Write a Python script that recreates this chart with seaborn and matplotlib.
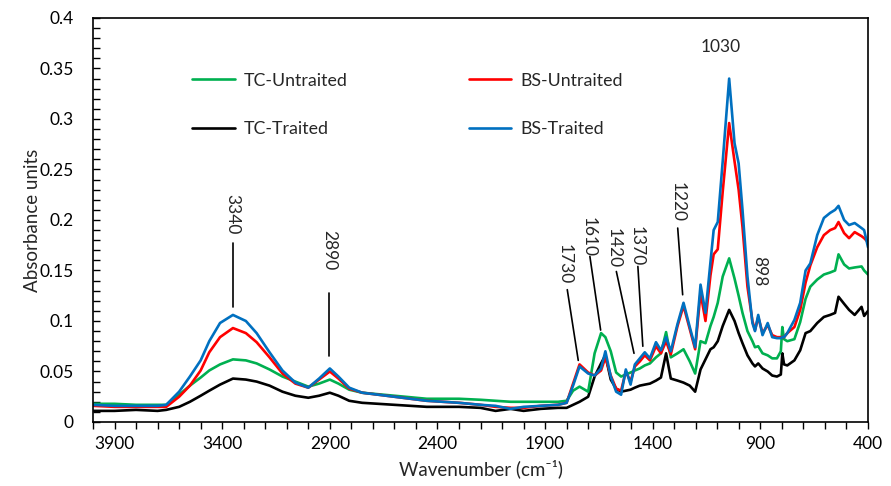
import pandas as pd
import seaborn as sns
import matplotlib.pyplot as plt
from matplotlib.ticker import MultipleLocator, FuncFormatter

# wavenumber grid (cm-1)
wavenumber = [4000, 3900, 3800, 3700, 3660, 3600, 3550, 3500, 3460, 3410,
              3350, 3290, 3240, 3180, 3120, 3060, 3000, 2950, 2900, 2860,
              2810, 2750, 2600, 2450, 2300, 2200, 2130, 2060, 2000, 1920,
              1840, 1800, 1770, 1740, 1700, 1670, 1640, 1620, 1595, 1570,
              1547, 1525, 1503, 1483, 1460, 1437, 1413, 1385, 1362, 1338,
              1316, 1285, 1257, 1228, 1203, 1178, 1155, 1132, 1117, 1098,
              1075, 1045, 1020, 1001, 983, 960, 937, 925, 910, 890,
              866, 845, 823, 805, 798, 790, 775, 742, 715, 690,
              668, 636, 605, 576, 553, 537, 511, 488, 462, 430,
              418, 400]

bs_traited = [.017, .016, .016, .016, .017, .030, .045, .061, .080, .098,
              .106, .100, .088, .069, .051, .039, .034, .043, .053, .045,
              .034, .029, .025, .021, .019, .017, .016, .013, .015, .016,
              .017, .019, .036, .055, .048, .046, .053, .070, .045, .030,
              .027, .052, .037, .057, .063, .069, .063, .079, .071, .084,
              .070, .097, .118, .094, .074, .136, .108, .158, .190, .198,
              .258, .340, .276, .256, .210, .144, .098, .090, .106, .086,
              .098, .084, .083, .083, .084, .084, .088, .101, .118, .150,
              .157, .185, .202, .207, .210, .214, .200, .195, .197, .192,
              .190, .173]

bs_untraited = [.016, .015, .015, .015, .015, .025, .036, .051, .069, .084,
                .093, .088, .079, .064, .048, .038, .034, .042, .050, .043,
                .033, .029, .025, .021, .019, .017, .015, .014, .014, .016,
                .017, .019, .038, .057, .049, .046, .051, .064, .046, .033,
                .031, .050, .040, .055, .060, .066, .061, .075, .068, .080,
                .067, .095, .115, .092, .072, .128, .100, .145, .166, .171,
                .228, .296, .258, .230, .193, .134, .100, .091, .104, .088,
                .096, .086, .084, .084, .084, .084, .088, .094, .111, .138,
                .155, .173, .185, .190, .192, .198, .187, .182, .188, .184,
                .182, .178]

tc_untraited = [.018, .018, .017, .017, .017, .027, .036, .044, .051, .057,
                .062, .061, .058, .052, .045, .040, .035, .038, .042, .038,
                .032, .029, .026, .023, .023, .022, .021, .020, .020, .020,
                .020, .021, .031, .035, .030, .068, .088, .084, .070, .049,
                .045, .047, .049, .051, .053, .056, .058, .064, .068, .089,
                .064, .068, .072, .060, .048, .080, .078, .095, .104, .118,
                .144, .162, .142, .125, .108, .090, .080, .074, .075, .068,
                .066, .063, .063, .070, .094, .082, .080, .082, .099, .122,
                .134, .141, .146, .148, .150, .166, .156, .152, .153, .154,
                .150, .146]

tc_traited = [.011, .011, .012, .011, .012, .015, .020, .026, .031, .037,
              .043, .042, .040, .036, .030, .026, .024, .026, .029, .026,
              .021, .019, .017, .015, .015, .014, .011, .013, .011, .013,
              .014, .014, .017, .020, .025, .045, .058, .066, .042, .033,
              .030, .031, .032, .034, .036, .037, .038, .041, .044, .068,
              .043, .041, .039, .036, .030, .052, .062, .072, .074, .080,
              .095, .111, .100, .088, .078, .066, .058, .055, .058, .053,
              .050, .046, .045, .047, .068, .057, .056, .061, .071, .088,
              .090, .098, .104, .106, .108, .124, .117, .111, .106, .114,
              .105, .110]

legend_order = ['TC-Untraited', 'TC-Traited', 'BS-Untraited', 'BS-Traited']
draw_order = ['TC-Traited', 'TC-Untraited', 'BS-Untraited', 'BS-Traited']
colors = {'TC-Untraited': '#00B050', 'TC-Traited': '#000000',
          'BS-Untraited': '#FF0000', 'BS-Traited': '#0070C0'}

# band labels: text, text position, leader line (start, end)
peak_labels = [
    ('3340', (3352, 0.206), (3352, 0.177), (3352, 0.114)),
    ('2890', (2903, 0.170), (2903, 0.128), (2903, 0.065)),
    ('1730', (1807, 0.156), (1797, 0.131), (1746, 0.061)),
    ('1610', (1700, 0.183), (1692, 0.164), (1642, 0.091)),
    ('1420', (1580, 0.172), (1569, 0.149), (1487, 0.068)),
    ('1370', (1475, 0.174), (1469, 0.154), (1446, 0.075)),
    ('1220', (1285, 0.218), (1284, 0.192), (1261, 0.126)),
    ('898', (904, 0.149), None, None),
]

df = pd.DataFrame({
    'Wavenumber': wavenumber * 4,
    'Absorbance': tc_untraited + tc_traited + bs_untraited + bs_traited,
    'Sample': [s for s in legend_order for _ in wavenumber],
})

sns.set_style('white')
plt.rcParams['font.family'] = ['Lato', 'DejaVu Sans']

fig = plt.figure(figsize=(8.91, 4.86), dpi=100)
ax = fig.add_axes([0.1044, 0.1317, 0.8698, 0.8313])

for name in draw_order:
    sns.lineplot(data=df[df['Sample'] == name], x='Wavenumber', y='Absorbance',
                 color=colors[name], linewidth=1.9, label=name, ax=ax,
                 estimator=None, sort=False)

ax.set_xlim(4000, 400)
ax.set_ylim(0, 0.4)

ax.xaxis.set_major_locator(MultipleLocator(500, offset=400))
ax.xaxis.set_minor_locator(MultipleLocator(100))
ax.yaxis.set_major_locator(MultipleLocator(0.05))
ax.yaxis.set_minor_locator(MultipleLocator(0.01))
ax.yaxis.set_major_formatter(FuncFormatter(lambda v, p: f'{v:g}'))
ax.xaxis.set_major_formatter(FuncFormatter(lambda v, p: f'{v:.0f}'))

ax.tick_params(axis='x', which='both', direction='out', length=5, width=1,
               colors='black', labelsize=12.5, pad=5, bottom=True)
ax.tick_params(axis='y', which='both', direction='in', length=5, width=1,
               colors='black', labelsize=12.5, pad=14, left=True)
for s in ax.spines.values():
    s.set_visible(True)
    s.set_color('black')
    s.set_linewidth(1.2)

ax.set_xlabel('Wavenumber (cm⁻¹)', fontsize=13.5, labelpad=5)
ax.set_ylabel('Absorbance units', fontsize=13.5, labelpad=-1)

# band annotations
for text, (tx, ty), start, end in peak_labels:
    ax.text(tx, ty, text, rotation=270, ha='center', va='center', fontsize=12.5)
    if start is not None:
        ax.plot([start[0], end[0]], [start[1], end[1]], color='black', linewidth=1.2)
ax.text(1085, 0.371, '1030', ha='center', va='center', fontsize=12.5)

handles, labels = ax.get_legend_handles_labels()
lookup = dict(zip(labels, handles))
ax.legend([lookup[n] for n in legend_order], legend_order, ncol=2, frameon=False,
          loc='upper left', bbox_to_anchor=(0.128, 0.865), borderaxespad=0,
          borderpad=0, handlelength=2.4, handletextpad=0.5, columnspacing=6.8,
          labelspacing=1.85, fontsize=12.8)

fig.savefig('out.png', dpi=100)
plt.close(fig)
